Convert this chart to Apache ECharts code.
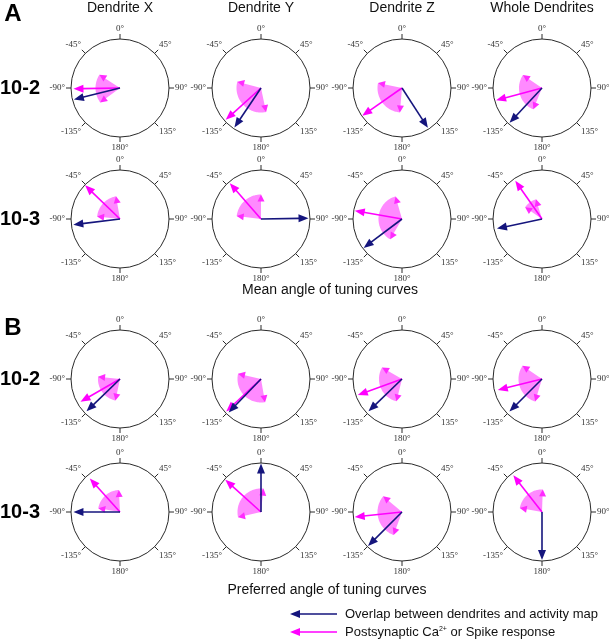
<!DOCTYPE html>
<html><head><meta charset="utf-8">
<script src="https://cdn.jsdelivr.net/npm/echarts@6/dist/echarts.min.js"></script>
<style>html,body{margin:0;padding:0;background:#fff}#c{width:609px;height:639px}</style>
</head><body><div id="c"></div>
<script>
// ---------- data ----------
const columns = ['Dendrite X', 'Dendrite Y', 'Dendrite Z', 'Whole Dendrites'];
const rowLabels = ['10-2', '10-3'];
const panelLetters = ['A', 'B'];
const panelTitles = ['Mean angle of tuning curves', 'Preferred angle of tuning curves'];
const angleTicks = [-180, -135, -90, -45, 0, 45, 90, 135];
const legendLabels = ['Overlap between dendrites and activity map', 'Postsynaptic Ca{sup|2+} or Spike response'];

// each list: row 10-2 (X, Y, Z, Whole) then row 10-3 (X, Y, Z, Whole)
// arrows: [length (fraction of radius), angle in degrees, 0 = top, clockwise]
const overlapMean  = [[0.97,-104],[0.97,-146],[0.97,147],[0.97,-137],[0.96,-97],[0.97,89],[0.98,-127],[0.94,-102]];
const responseMean = [[0.95,-91],[0.97,-132],[0.99,-125],[0.97,-105],[0.99,-46],[0.97,-41],[0.98,-80],[0.95,-35]];
// spread sectors: [radius, from angle, to angle]
const spreadMean   = [[0.5,-57,-126],[0.5,-75,-192],[0.5,-78,-175],[0.47,-56,-158],[0.47,-10,-84],[0.5,0,-83],[0.48,-16,-150],[0.42,-17,-55]];

const overlapPref  = [[0.95,-134],[0.95,-136],[0.95,-134],[0.94,-135],[0.95,-90],[0.99,0],[0.98,-135],[0.98,180]];
const responsePref = [[0.93,-120],[0.97,-133],[0.96,-110],[0.93,-104],[0.92,-42],[0.98,-48],[0.97,-96],[0.95,-38]];
const spreadPref   = [[0.45,-84,-168],[0.48,-77,-190],[0.47,-60,-166],[0.48,-56,-163],[0.45,-3,-80],[0.48,6,-103],[0.5,-50,-160],[0.46,2,-80]];

// ---------- layout / style ----------
const colX = [120, 261, 402, 542];
const rowY = [88, 219, 379, 512];
const R = 49;
const NAVY = '#15157d', MAG = '#ff00ff', PINK = '#ff8aff', SPREAD_HEAD = '#ff2bff';

const overlaps = overlapMean.concat(overlapPref);
const responses = responseMean.concat(responsePref);
const spreads = spreadMean.concat(spreadPref);

function headPoly(tip, ux, uy, hl, hw) {
  const bx = tip[0] - ux * hl, by = tip[1] - uy * hl;
  return [tip, [bx - uy * hw, by + ux * hw], [bx + uy * hw, by - ux * hw]];
}

function arrowRender(color) {
  return function (params, api) {
    const len = api.value(0), ang = api.value(1);
    const p0 = api.coord([0, ang]), p1 = api.coord([len, ang]);
    const dx = p1[0] - p0[0], dy = p1[1] - p0[1];
    const L = Math.hypot(dx, dy) || 1;
    const ux = dx / L, uy = dy / L, hl = 10, hw = 4;
    return {
      type: 'group', children: [
        { type: 'line', shape: { x1: p0[0], y1: p0[1], x2: p1[0] - ux * (hl - 1), y2: p1[1] - uy * (hl - 1) },
          style: { stroke: color, lineWidth: 1.6 } },
        { type: 'polygon', shape: { points: headPoly(p1, ux, uy, hl, hw) }, style: { fill: color } }
      ]
    };
  };
}

function spreadRender(params, api) {
  const r = api.value(0), a1 = api.value(1), a2 = api.value(2);
  const c = api.coord([0, a1]);
  const pts = [c];
  const n = 48;
  for (let k = 0; k <= n; k++) pts.push(api.coord([r, a1 + (a2 - a1) * k / n]));
  const children = [{ type: 'polygon', shape: { points: pts }, style: { fill: PINK } }];
  [a1, a2].forEach(a => {
    const p = api.coord([r, a]);
    const dx = p[0] - c[0], dy = p[1] - c[1], L = Math.hypot(dx, dy) || 1;
    children.push({ type: 'polygon', shape: { points: headPoly(p, dx / L, dy / L, 7, 3.5) }, style: { fill: SPREAD_HEAD } });
  });
  return { type: 'group', children };
}

const polar = [], angleAxis = [], radiusAxis = [], series = [];
for (let p = 0; p < 2; p++) {
  for (let r = 0; r < 2; r++) {
    for (let c = 0; c < 4; c++) {
      const i = polar.length;
      const k = p * 8 + r * 4 + c;
      polar.push({ center: [colX[c], rowY[p * 2 + r]], radius: R });
      angleAxis.push({
        polarIndex: i, type: 'value', min: -180, max: 180, interval: 45, startAngle: -90, clockwise: true,
        axisLine: { show: true, lineStyle: { color: '#2a2a2a', width: 1 } },
        axisTick: { show: true, length: 5, lineStyle: { color: '#2a2a2a', width: 1 } },
        axisLabel: { show: true, margin: 6, fontFamily: 'Liberation Serif', fontSize: 9, color: '#333',
          formatter: v => (angleTicks.indexOf(v) >= 0 || v === 180 ? (v === -180 ? '180' : String(v)) + '°' : '') },
        splitLine: { show: false }, splitArea: { show: false }
      });
      radiusAxis.push({ polarIndex: i, type: 'value', min: 0, max: 1, show: false,
        axisLine: { show: false }, axisTick: { show: false }, axisLabel: { show: false }, splitLine: { show: false } });
      series.push({ type: 'custom', coordinateSystem: 'polar', polarIndex: i, renderItem: spreadRender,
        data: [spreads[k]], encode: { radius: 0, angle: 1 }, silent: true, z: 2 });
      series.push({ type: 'custom', coordinateSystem: 'polar', polarIndex: i, renderItem: arrowRender(MAG),
        data: [responses[k]], silent: true, z: 3 });
      series.push({ type: 'custom', coordinateSystem: 'polar', polarIndex: i, renderItem: arrowRender(NAVY),
        data: [overlaps[k]], silent: true, z: 4 });
    }
  }
}

const SANS = 'Liberation Sans';
const graphic = [];
columns.forEach((t, c) => graphic.push({ type: 'text', x: colX[c], y: 8,
  style: { text: t, fontFamily: SANS, fontSize: 14, fill: '#111', align: 'center', verticalAlign: 'middle' } }));
panelLetters.forEach((t, p) => graphic.push({ type: 'text', x: 13, y: p === 0 ? 14 : 328,
  style: { text: t, fontFamily: SANS, fontWeight: 'bold', fontSize: 24, fill: '#000', align: 'center', verticalAlign: 'middle' } }));
for (let p = 0; p < 2; p++) rowLabels.forEach((t, r) => graphic.push({ type: 'text', x: 20, y: rowY[p * 2 + r],
  style: { text: t, fontFamily: SANS, fontWeight: 'bold', fontSize: 20, fill: '#000', align: 'center', verticalAlign: 'middle' } }));
panelTitles.forEach((t, p) => graphic.push({ type: 'text', x: p === 0 ? 330 : 327, y: p === 0 ? 290 : 590,
  style: { text: t, fontFamily: SANS, fontSize: 14, fill: '#111', align: 'center', verticalAlign: 'middle' } }));
[NAVY, MAG].forEach((col, j) => {
  const y = j === 0 ? 614 : 632;
  graphic.push({ type: 'line', shape: { x1: 298, y1: y, x2: 337, y2: y }, style: { stroke: col, lineWidth: 1.6 } });
  graphic.push({ type: 'polygon', shape: { points: headPoly([290, y], -1, 0, 10, 4) }, style: { fill: col } });
  graphic.push({ type: 'text', x: 345, y: y,
    style: { text: legendLabels[j], fontFamily: SANS, fontSize: 13, fill: '#111', align: 'left', verticalAlign: 'middle',
      rich: { sup: { fontSize: 7, fontFamily: SANS, verticalAlign: 'top', fill: '#111' } } } });
});

const chart = echarts.init(document.getElementById('c'), null, { renderer: 'canvas' });
chart.setOption({ animation: false, backgroundColor: '#fff', polar, angleAxis, radiusAxis, series, graphic });
</script></body></html>
